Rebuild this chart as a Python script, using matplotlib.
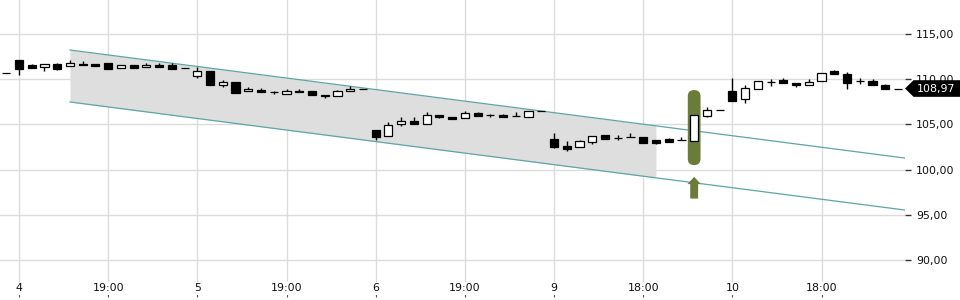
import numpy as np
import matplotlib.pyplot as plt
from matplotlib.patches import FancyBboxPatch, Polygon
from matplotlib.transforms import blended_transform_factory

# Kursdaten (Kerzen), eine Kerze pro Zeitschritt
opens = [110.65, 112.12, 111.6, 111.35, 111.68, 111.43, 111.71, 111.68, 111.76, 111.27,
         111.6, 111.32, 111.6, 111.6, 111.27, 110.35, 110.9, 109.4, 109.7, 108.66,
         108.84, 108.55, 108.4, 108.73, 108.66, 108.29, 108.1, 108.66, 108.92, 104.38,
         103.7, 105.04, 105.38, 105.04, 106.0, 105.79, 105.7, 106.3, 106.0, 106.07,
         105.96, 105.82, 106.48, 103.35, 102.65, 102.5, 103.1, 103.8, 103.53, 103.6,
         103.6, 103.24, 103.42, 103.27, 103.2, 105.96, 106.6, 108.66, 107.81, 108.88,
         109.72, 109.9, 109.55, 109.4, 109.77, 110.87, 110.57, 109.77, 109.83, 109.4,
         108.97]
highs = [110.65, 112.12, 111.7, 111.65, 111.75, 112.12, 111.98, 111.68, 111.76, 111.54,
         111.6, 111.83, 111.76, 111.76, 111.27, 111.38, 110.9, 109.9, 109.7, 109.1,
         109.03, 108.73, 108.92, 108.95, 108.66, 108.29, 108.84, 109.25, 108.92, 104.38,
         105.23, 105.79, 105.79, 106.34, 106.0, 105.79, 106.45, 106.4, 106.18, 106.1,
         106.37, 106.45, 106.48, 104.08, 103.13, 103.27, 103.7, 103.8, 103.86, 104.0,
         103.6, 103.24, 103.55, 103.64, 106.04, 106.96, 106.6, 110.13, 109.36, 109.77,
         110.05, 110.13, 109.55, 110.02, 110.65, 111.0, 110.8, 110.13, 110.05, 109.45,
         108.97]
lows = [110.65, 110.5, 111.2, 110.94, 111.05, 111.43, 111.54, 111.5, 111.16, 111.27,
        111.27, 111.32, 111.38, 111.1, 111.27, 110.13, 109.33, 109.1, 108.5, 108.66,
        108.62, 108.4, 108.4, 108.55, 108.22, 107.95, 108.1, 108.66, 108.92, 103.27,
        103.7, 104.79, 105.04, 105.04, 105.68, 105.64, 105.7, 105.9, 105.82, 105.85,
        105.96, 105.82, 106.48, 102.4, 102.1, 102.5, 102.87, 103.4, 103.3, 103.6,
        102.98, 102.85, 103.09, 103.27, 103.2, 105.79, 106.6, 107.62, 107.4, 108.88,
        109.2, 109.55, 109.17, 109.4, 109.77, 110.57, 108.95, 109.47, 109.33, 108.88,
        108.97]
closes = [110.65, 111.16, 111.27, 111.65, 111.16, 111.83, 111.54, 111.5, 111.16, 111.54,
          111.27, 111.6, 111.38, 111.1, 111.27, 110.87, 109.33, 109.7, 108.5, 108.92,
          108.62, 108.55, 108.66, 108.55, 108.22, 108.1, 108.66, 108.92, 108.92, 103.6,
          104.9, 105.38, 105.04, 106.0, 105.79, 105.64, 106.3, 105.96, 106.0, 105.85,
          105.96, 106.45, 106.48, 102.5, 102.28, 103.16, 103.7, 103.4, 103.53, 103.6,
          102.98, 102.94, 103.09, 103.27, 106.04, 106.56, 106.6, 107.62, 109.0, 109.77,
          109.72, 109.55, 109.36, 109.66, 110.65, 110.57, 109.6, 109.77, 109.33, 108.88,
          108.97]

tick_pos = [1, 8, 15, 22, 29, 36, 43, 50, 57, 64]
tick_labels = ['4', '19:00', '5', '19:00', '6', '19:00', '9', '18:00', '10', '18:00']
y_ticks = [90, 95, 100, 105, 110, 115]

# Trendkanal
channel_x = [5, 51, 70.6]
channel_top = [113.23, 104.84, 101.27]
channel_bottom = [107.48, 99.09, 95.52]

signal_idx = 54
signal_box = [100.5, 108.8]
arrow_y = [96.8, 99.2]

last_price = closes[-1]

green = '#6b7c3a'
teal = '#5ea5a8'

fig = plt.figure(figsize=(9.6, 3.0), dpi=100)
ax = fig.add_axes([0.0, 0.06, 905 / 960, 0.94])

x = np.arange(len(opens))
o = np.array(opens)
c = np.array(closes)
h = np.array(highs)
l = np.array(lows)

# Kanal: Fläche bis zum Ende der Formation, Linien bis zum rechten Rand
ax.fill_between(channel_x[:2], channel_bottom[:2], channel_top[:2], color='#dedede', lw=0, zorder=1)
ax.plot(channel_x, channel_top, color=teal, lw=0.9, zorder=2)
ax.plot(channel_x, channel_bottom, color=teal, lw=0.9, zorder=2)

# Markierung des Signals
box = FancyBboxPatch((signal_idx - 0.5, signal_box[0]), 1.0, signal_box[1] - signal_box[0],
                     boxstyle='round,pad=0,rounding_size=0.5', mutation_aspect=1.4,
                     fc=green, ec='none', zorder=3)
ax.add_patch(box)
ax.arrow(signal_idx, arrow_y[0], 0, arrow_y[1] - arrow_y[0], width=0.62, head_width=1.05,
         head_length=0.8, length_includes_head=True, fc=green, ec='none', zorder=3)

# Kerzen
ax.vlines(x, l, h, color='black', lw=1, zorder=4)
up = c > o
face = np.where(up, 'white', 'black')
ax.bar(x, np.abs(c - o), bottom=np.minimum(o, c), width=0.64, color=face,
       edgecolor='black', linewidth=0.9, zorder=5)

ax.set_xlim(-0.49, 70.55)
ax.set_ylim(87.57, 118.76)

ax.set_xticks(tick_pos)
ax.set_xticklabels(tick_labels)
ax.set_yticks(y_ticks)
ax.set_yticklabels([f'{v:.2f}'.replace('.', ',') for v in y_ticks])

ax.yaxis.tick_right()
ax.tick_params(axis='y', length=4, width=1, color='#333333', pad=4, labelsize=7.9,
               labelcolor='#111111')
ax.tick_params(axis='x', length=11, width=0.8, color='#555555', pad=-10, labelsize=7.9,
               labelcolor='#111111')
for lab in ax.get_xticklabels():
    lab.set_bbox(dict(facecolor='white', edgecolor='none', pad=1.2))

ax.grid(True, color='#dcdcdc', lw=1)
ax.set_axisbelow(True)
for s in ax.spines.values():
    s.set_visible(False)

# Kursschild rechts
tr = blended_transform_factory(ax.transAxes, ax.transData)
half = 0.92
tag = Polygon([[1.0, last_price], [1.0095, last_price + half], [1.2, last_price + half],
               [1.2, last_price - half], [1.0095, last_price - half]],
              closed=True, transform=tr, fc='black', ec='none', clip_on=False, zorder=6)
ax.add_patch(tag)
ax.text(1.0125, last_price, f'{last_price:.2f}'.replace('.', ','), transform=tr,
        color='white', fontsize=7.9, va='center', ha='left', zorder=7, clip_on=False)

fig.savefig('out.png', dpi=100)
